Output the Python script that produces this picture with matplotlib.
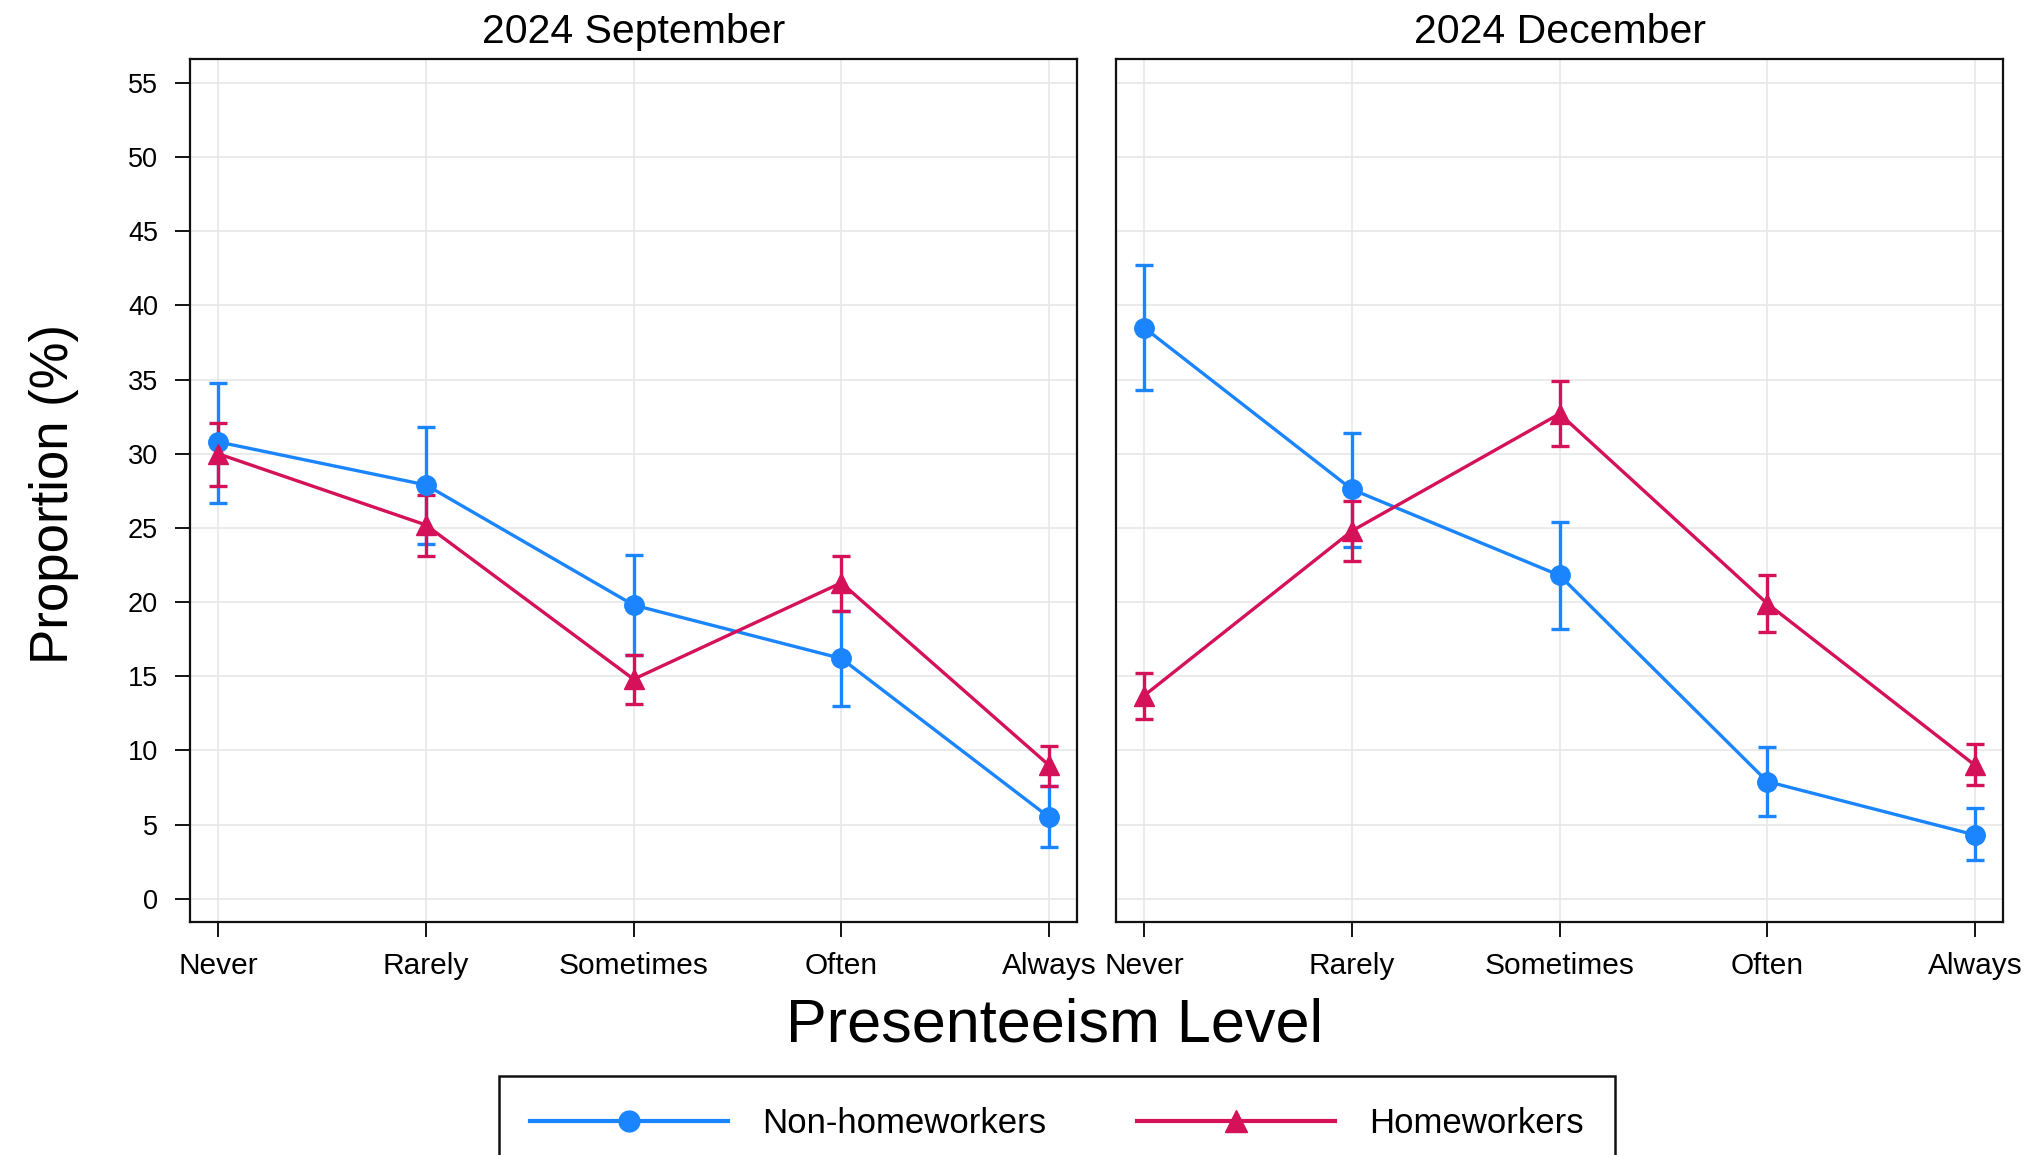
import matplotlib
matplotlib.use("Agg")
import matplotlib.pyplot as plt
from matplotlib.lines import Line2D
import numpy as np

plt.rcParams["font.family"] = ["Liberation Sans", "DejaVu Sans"]

levels = ["Never", "Rarely", "Sometimes", "Often", "Always"]
panels = ["2024 September", "2024 December"]

# Proportions (%) with 95% CI bounds, per survey wave
non_home = {
    "2024 September": [30.8, 27.9, 19.8, 16.2, 5.5],
    "2024 December": [38.5, 27.6, 21.8, 7.9, 4.3],
}
non_home_lo = {
    "2024 September": [26.7, 23.9, 16.4, 13.0, 3.5],
    "2024 December": [34.3, 23.7, 18.2, 5.6, 2.6],
}
non_home_hi = {
    "2024 September": [34.8, 31.8, 23.2, 19.4, 7.6],
    "2024 December": [42.7, 31.4, 25.4, 10.2, 6.1],
}
home = {
    "2024 September": [30.0, 25.2, 14.8, 21.3, 9.0],
    "2024 December": [13.7, 24.8, 32.7, 19.9, 9.0],
}
home_lo = {
    "2024 September": [27.8, 23.1, 13.1, 19.4, 7.6],
    "2024 December": [12.1, 22.8, 30.5, 18.0, 7.7],
}
home_hi = {
    "2024 September": [32.1, 27.2, 16.4, 23.1, 10.3],
    "2024 December": [15.2, 26.8, 34.9, 21.8, 10.4],
}

BLUE = "#1A85FF"
RED = "#D41159"

fig = plt.figure(figsize=(20.32, 11.55), dpi=100)
W, H = 2032, 1155
ax_w = 887 / W
ax_b = 1 - 921.7 / H
ax_h = (921.7 - 59.3) / H
axes = [fig.add_axes([190 / W, ax_b, ax_w, ax_h]),
        fig.add_axes([1116 / W, ax_b, ax_w, ax_h])]

x = np.arange(len(levels))
for i, (ax, name) in enumerate(zip(axes, panels)):
    for vals, lo, hi, col, mk, ms in [
        (non_home[name], non_home_lo[name], non_home_hi[name], BLUE, "o", 14),
        (home[name], home_lo[name], home_hi[name], RED, "^", 15),
    ]:
        v = np.array(vals)
        yerr = np.vstack([v - np.array(lo), np.array(hi) - v])
        ax.errorbar(x, v, yerr=yerr, color=col, marker=mk, markersize=ms,
                    linewidth=2.4, elinewidth=2.4, capsize=6.8, capthick=2.4)

    ax.set_xlim(-0.136, 4.135)
    ax.set_ylim(-1.55, 56.6)
    ax.set_xticks(x)
    ax.set_xticklabels(levels, fontsize=21.5)
    ax.set_yticks(np.arange(0, 56, 5))
    ax.grid(True, color="#E6E6E6", linewidth=1.1)
    ax.set_axisbelow(True)
    for sp in ax.spines.values():
        sp.set_linewidth(1.6)
        sp.set_color("#111111")
    ax.tick_params(axis="x", length=11, width=1.3, pad=10.5)
    ax.set_title(name, fontsize=29.5, pad=12)
    if i == 0:
        ax.tick_params(axis="y", labelsize=19.5, length=11, width=1.3, pad=12)
    else:
        ax.tick_params(axis="y", length=0, labelleft=False)

fig.text(1055 / W, 1 - 1026 / H, "Presenteeism Level", fontsize=44,
         ha="center", va="center")
fig.text(54 / W, 1 - 494 / H, "Proportion (%)", fontsize=38, rotation=90,
         ha="center", va="center")

handles = [
    Line2D([], [], color=BLUE, marker="o", markersize=15, linewidth=3.0),
    Line2D([], [], color=RED, marker="^", markersize=16, linewidth=3.0),
]
leg = fig.legend(handles, ["Non-homeworkers", "Homeworkers"], ncol=2,
                 loc="upper center", bbox_to_anchor=(1057 / W, 1 - 1076 / H),
                 borderaxespad=0, fontsize=25, handlelength=5.7,
                 handletextpad=1.0, columnspacing=2.6, borderpad=0.9,
                 fancybox=False, framealpha=1)
leg.get_frame().set_edgecolor("#111111")
leg.get_frame().set_linewidth(1.8)

fig.savefig("out.png", dpi=100)
